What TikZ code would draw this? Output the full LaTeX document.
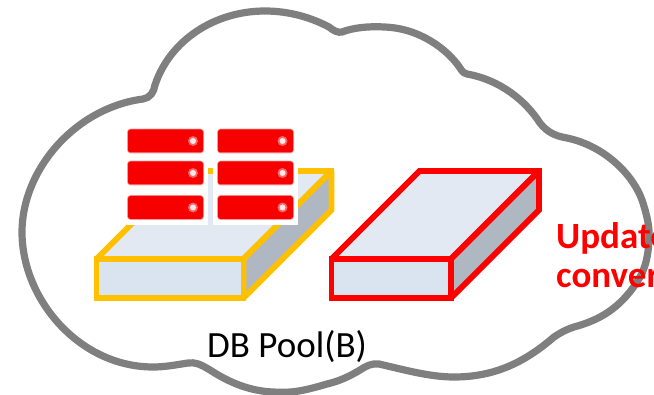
\documentclass[tikz,border=0pt]{standalone}
\usepackage{fontspec}
\setmainfont{Carlito}
\definecolor{cloudgray}{HTML}{7F7F7F}
\definecolor{slabfront}{HTML}{DAE3F0}
\definecolor{slabtop}{HTML}{E2E9F3}
\definecolor{slabside}{HTML}{AFB8C2}
\definecolor{goldline}{HTML}{FFC000}
\definecolor{srvred}{HTML}{F70000}
\tikzset{
  cloudline/.style={draw=cloudgray,line width=7.2pt,fill=white},
  slabline/.style={line width=5.8pt,miter limit=2,line join=miter},
  srv/.style={fill=srvred,draw=srvred,draw opacity=.4,line width=1.6pt,rounded corners=2.5pt},
  label/.style={anchor=base west,inner sep=0pt,font=\fontsize{37}{40}\selectfont},
  redlabel/.style={label,text=red,font=\fontsize{37}{40}\selectfont\bfseries}
}
% #1 left x, #2 front right x, #3 line colour
\newcommand{\slab}[3]{%
  \filldraw[slabline,draw=#3,fill=slabtop] (#1,259) -- ({#1+88},171) -- ({#2+88},171) -- (#2,259) -- cycle;
  \filldraw[slabline,draw=#3,fill=slabside] (#2,259) -- ({#2+88},171) -- ({#2+88},210) -- (#2,298) -- cycle;
  \filldraw[slabline,draw=#3,fill=slabfront] (#1,259) rectangle (#2,298);
  \fill[#3] ({#2+83},168.1) rectangle ({#2+90.9},174);
}
% #1 left x, #2 top y, #3 dot x
\newcommand{\server}[3]{%
  \path[srv] (#1,#2) rectangle ({#1+75},{#2+23});
  \fill[white,opacity=.4] (#3,{#2+11.5}) circle (5pt);
  \fill[white,opacity=.85] (#3,{#2+11.5}) circle (3pt);
}
\begin{document}
\begin{tikzpicture}[x=1pt,y=-1pt]
\useasboundingbox (0,0) rectangle (654,395);
\clip (0,0) rectangle (654,395);
\path[cloudline] (143,99)
  .. controls (150,98) and (154,92) .. (155,85)
  .. controls (170,40) and (215,11) .. (265,11)
  .. controls (290,11) and (312,18) .. (329,27)
  .. controls (334,31) and (338,33) .. (342,32)
  .. controls (352,28) and (368,26) .. (384,27)
  .. controls (420,28) and (448,50) .. (460,68)
  .. controls (463,73) and (465,73.5) .. (467,74)
  .. controls (500,80) and (525,100) .. (540,123)
  .. controls (547,132) and (555,136) .. (567,138)
  .. controls (605,146) and (633,175) .. (642,200)
  .. controls (647,215) and (650,228) .. (649,240)
  .. controls (648,258) and (645,270) .. (637,282)
  .. controls (620,308) and (600,320) .. (574,327)
  .. controls (565,330) and (560,333) .. (554,337)
  .. controls (525,362) and (495,377) .. (454,377)
  .. controls (430,377) and (405,370) .. (379,364)
  .. controls (372,363) and (366,366) .. (360,370)
  .. controls (350,376) and (340,381) .. (327,384)
  .. controls (300,392) and (290,393) .. (273,392)
  .. controls (250,391) and (230,383) .. (210,370)
  .. controls (200,364) and (195,362) .. (188,363)
  .. controls (175,365) and (165,367) .. (153,367)
  .. controls (80,367) and (22,300) .. (22,232)
  .. controls (22,170) and (75,108) .. (143,99) -- cycle;
\slab{96.5}{243.5}{goldline}
\slab{331.5}{451}{red}
\fill[white] (127,125) rectangle (208,225);
\fill[white] (213,125) rectangle (298,225);
\server{128}{129.5}{193}
\server{128}{161.5}{193}
\server{128}{196}{193}
\server{218}{129.5}{282.5}
\server{218}{161.5}{282.5}
\server{218}{196}{282.5}
\node[label] (pool) at (207,358) {DB Pool(B)};
\node[redlabel] (upd) at (556,249) {Update};
\node[redlabel] (conv) at (556,288) {convert};
\end{tikzpicture}
\end{document}
